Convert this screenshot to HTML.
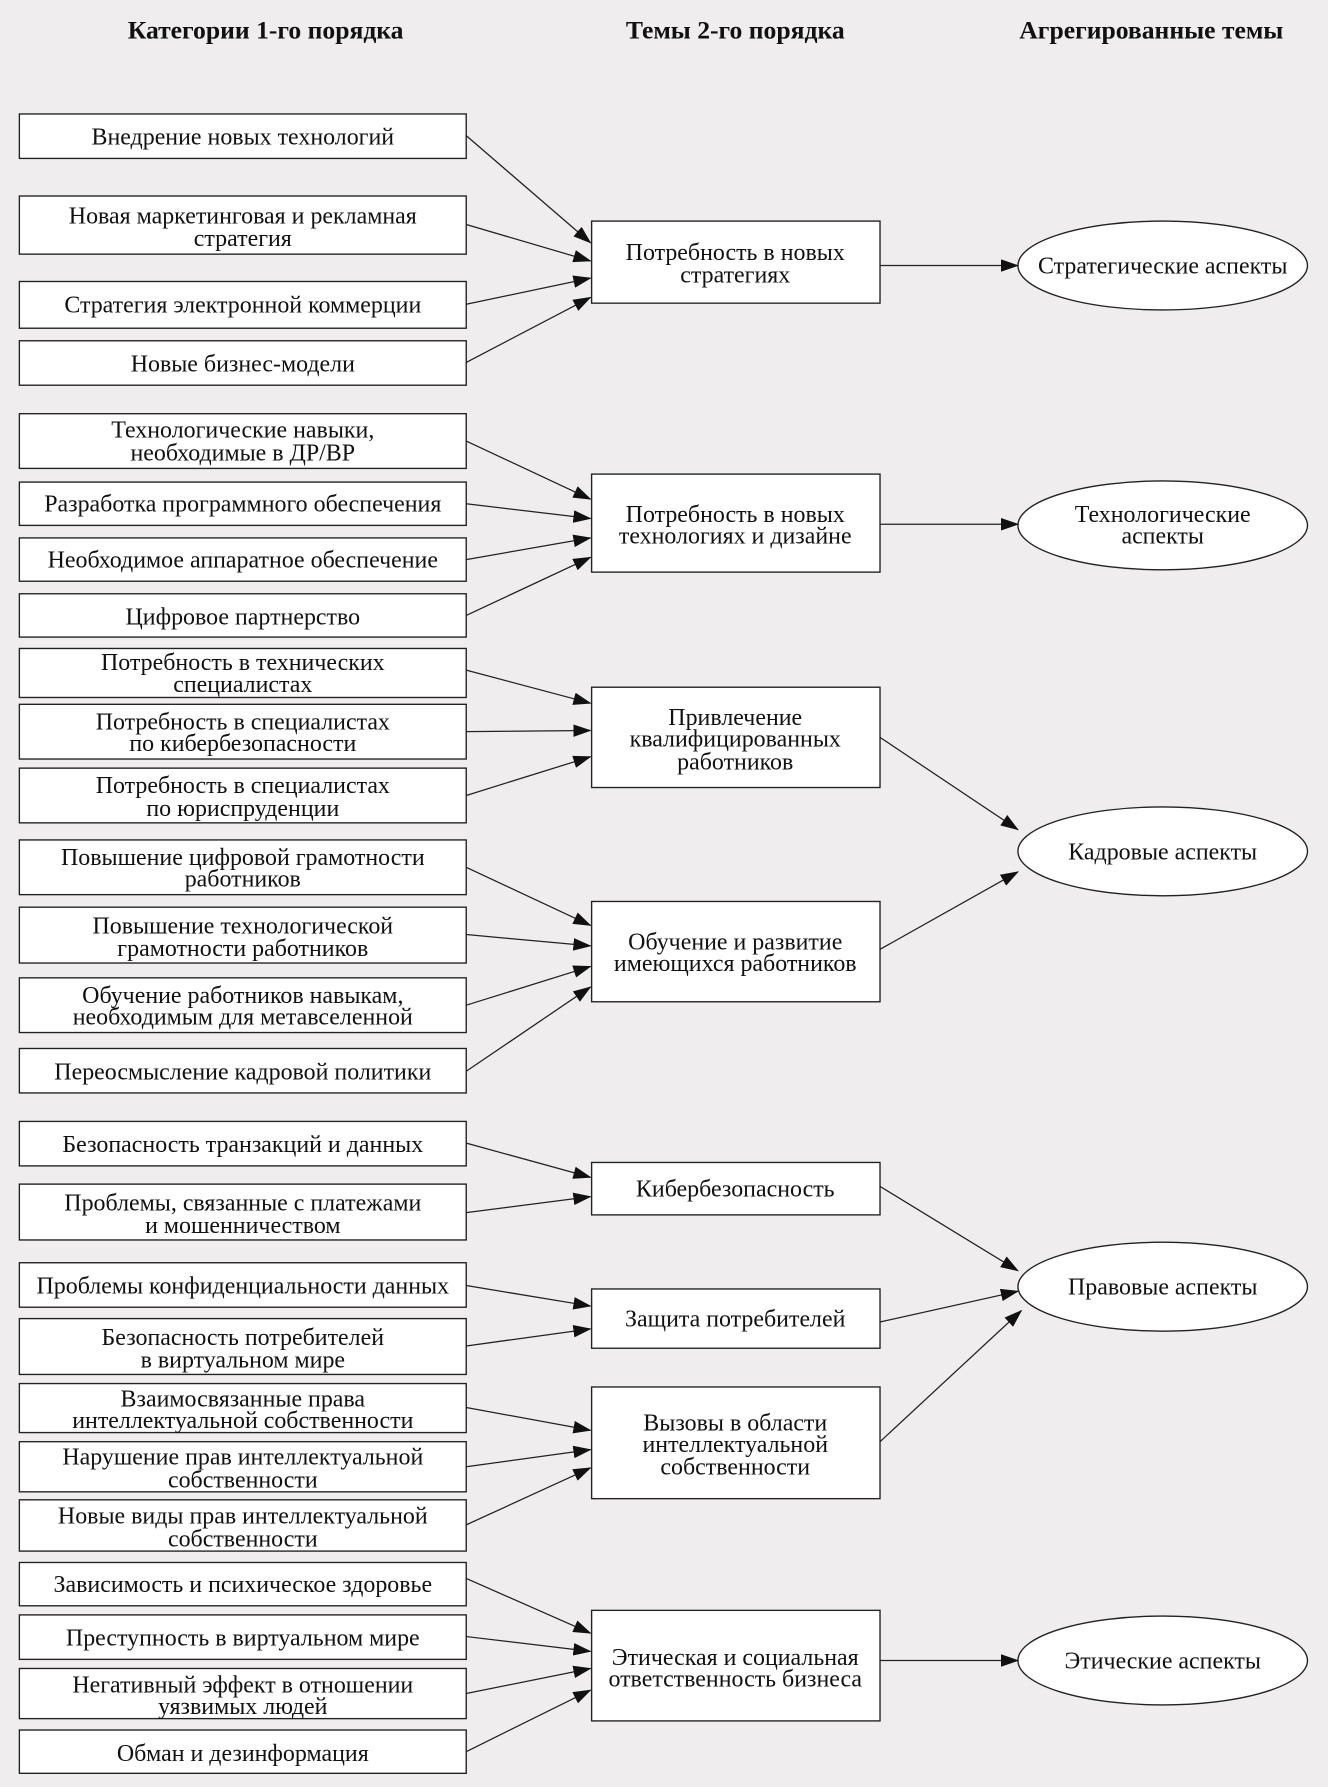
<!DOCTYPE html>
<html><head><meta charset="utf-8"><style>
html,body{margin:0;padding:0;background:#efedee;}
svg{display:block}
text{font-family:"Liberation Serif",serif;font-size:21px;fill:#111;text-anchor:middle}
.h{font-weight:bold;font-size:22.5px}
rect,ellipse{fill:#fff;stroke:#222;stroke-width:1.2}
line{stroke:#222;stroke-width:1.1;marker-end:url(#a)}
</style></head><body>
<svg width="1328" height="1787" viewBox="0 0 1165 1568" preserveAspectRatio="none" xmlns="http://www.w3.org/2000/svg">
<defs><marker id="a" markerWidth="16" markerHeight="11" refX="15" refY="5.5" orient="auto" markerUnits="userSpaceOnUse"><path d="M0,0 L16,5.5 L0,11 z" fill="#111"/></marker></defs>
<rect x="0" y="0" width="1165" height="1568" style="fill:#efedee;stroke:none"/>
<text class="h" x="233" y="34">Категории 1-го порядка</text>
<text class="h" x="645" y="34">Темы 2-го порядка</text>
<text class="h" x="1010" y="34">Агрегированные темы</text>

<g>
<rect x="17" y="100" width="392" height="39"/><text x="213" y="127">Внедрение новых технологий</text>
<rect x="17" y="172" width="392" height="51"/><text x="213" y="196">Новая маркетинговая и рекламная</text><text x="213" y="216">стратегия</text>
<rect x="17" y="247" width="392" height="41"/><text x="213" y="274">Стратегия электронной коммерции</text>
<rect x="17" y="299" width="392" height="39"/><text x="213" y="326">Новые бизнес-модели</text>

<rect x="17" y="363" width="392" height="48"/><text x="213" y="384">Технологические навыки,</text><text x="213" y="404">необходимые в ДР/ВР</text>
<rect x="17" y="423" width="392" height="38"/><text x="213" y="449">Разработка программного обеспечения</text>
<rect x="17" y="472" width="392" height="38"/><text x="213" y="498">Необходимое аппаратное обеспечение</text>
<rect x="17" y="521" width="392" height="38"/><text x="213" y="548">Цифровое партнерство</text>

<rect x="17" y="569" width="392" height="43"/><text x="213" y="588">Потребность в технических</text><text x="213" y="607">специалистах</text>
<rect x="17" y="618" width="392" height="48"/><text x="213" y="640">Потребность в специалистах</text><text x="213" y="659">по кибербезопасности</text>
<rect x="17" y="674" width="392" height="48"/><text x="213" y="696">Потребность в специалистах</text><text x="213" y="716">по юриспруденции</text>

<rect x="17" y="737" width="392" height="48"/><text x="213" y="759">Повышение цифровой грамотности</text><text x="213" y="778">работников</text>
<rect x="17" y="796" width="392" height="49"/><text x="213" y="819">Повышение технологической</text><text x="213" y="839">грамотности работников</text>
<rect x="17" y="858" width="392" height="48"/><text x="213" y="880">Обучение работников навыкам,</text><text x="213" y="899">необходимым для метавселенной</text>
<rect x="17" y="920" width="392" height="39"/><text x="213" y="947">Переосмысление кадровой политики</text>

<rect x="17" y="984" width="392" height="39"/><text x="213" y="1011">Безопасность транзакций и данных</text>
<rect x="17" y="1039" width="392" height="49"/><text x="213" y="1062">Проблемы, связанные с платежами</text><text x="213" y="1082">и мошенничеством</text>

<rect x="17" y="1108" width="392" height="39"/><text x="213" y="1135">Проблемы конфиденциальности данных</text>
<rect x="17" y="1157" width="392" height="49"/><text x="213" y="1180">Безопасность потребителей</text><text x="213" y="1200">в виртуальном мире</text>
<rect x="17" y="1214" width="392" height="43"/><text x="213" y="1234">Взаимосвязанные права</text><text x="213" y="1253">интеллектуальной собственности</text>
<rect x="17" y="1265" width="392" height="44"/><text x="213" y="1285">Нарушение прав интеллектуальной</text><text x="213" y="1305">собственности</text>
<rect x="17" y="1316" width="392" height="45"/><text x="213" y="1337">Новые виды прав интеллектуальной</text><text x="213" y="1357">собственности</text>

<rect x="17" y="1371" width="392" height="38"/><text x="213" y="1397">Зависимость и психическое здоровье</text>
<rect x="17" y="1417" width="392" height="39"/><text x="213" y="1444">Преступность в виртуальном мире</text>
<rect x="17" y="1464" width="392" height="44"/><text x="213" y="1485">Негативный эффект в отношении</text><text x="213" y="1504">уязвимых людей</text>
<rect x="17" y="1518" width="392" height="38"/><text x="213" y="1545">Обман и дезинформация</text>
</g>

<rect x="519" y="194" width="253" height="72"/><text x="645" y="228">Потребность в новых</text><text x="645" y="248">стратегиях</text>
<rect x="519" y="416" width="253" height="86"/><text x="645" y="458">Потребность в новых</text><text x="645" y="477">технологиях и дизайне</text>
<rect x="519" y="603" width="253" height="88"/><text x="645" y="636">Привлечение</text><text x="645" y="655">квалифицированных</text><text x="645" y="675">работников</text>
<rect x="519" y="791" width="253" height="88"/><text x="645" y="833">Обучение и развитие</text><text x="645" y="852">имеющихся работников</text>
<rect x="519" y="1020" width="253" height="46"/><text x="645" y="1050">Кибербезопасность</text>
<rect x="519" y="1131" width="253" height="52"/><text x="645" y="1164">Защита потребителей</text>
<rect x="519" y="1217" width="253" height="98"/><text x="645" y="1255">Вызовы в области</text><text x="645" y="1274">интеллектуальной</text><text x="645" y="1294">собственности</text>
<rect x="519" y="1413" width="253" height="97"/><text x="645" y="1461">Этическая и социальная</text><text x="645" y="1480">ответственность бизнеса</text>

<ellipse cx="1020" cy="233" rx="127" ry="39"/><text x="1020" y="240">Стратегические аспекты</text>
<ellipse cx="1020" cy="461" rx="127" ry="39"/><text x="1020" y="458">Технологические</text><text x="1020" y="477">аспекты</text>
<ellipse cx="1020" cy="747" rx="127" ry="39"/><text x="1020" y="754">Кадровые аспекты</text>
<ellipse cx="1020" cy="1129" rx="127" ry="39"/><text x="1020" y="1136">Правовые аспекты</text>
<ellipse cx="1020" cy="1457" rx="127" ry="39"/><text x="1020" y="1464">Этические аспекты</text>

<line x1="409" y1="119" x2="518" y2="213"/>
<line x1="409" y1="197" x2="518" y2="229"/>
<line x1="409" y1="267" x2="518" y2="244"/>
<line x1="409" y1="318" x2="518" y2="261"/>

<line x1="409" y1="387" x2="518" y2="438"/>
<line x1="409" y1="442" x2="518" y2="455"/>
<line x1="409" y1="491" x2="518" y2="472"/>
<line x1="409" y1="540" x2="518" y2="489"/>

<line x1="409" y1="588" x2="518" y2="617"/>
<line x1="409" y1="642" x2="518" y2="641"/>
<line x1="409" y1="698" x2="518" y2="664"/>

<line x1="409" y1="761" x2="518" y2="812"/>
<line x1="409" y1="820" x2="518" y2="830"/>
<line x1="409" y1="882" x2="518" y2="848"/>
<line x1="409" y1="940" x2="518" y2="866"/>

<line x1="409" y1="1003" x2="518" y2="1033"/>
<line x1="409" y1="1064" x2="518" y2="1050"/>

<line x1="409" y1="1128" x2="518" y2="1146"/>
<line x1="409" y1="1181" x2="518" y2="1166"/>

<line x1="409" y1="1235" x2="518" y2="1255"/>
<line x1="409" y1="1287" x2="518" y2="1272"/>
<line x1="409" y1="1338" x2="518" y2="1288"/>

<line x1="409" y1="1385" x2="518" y2="1433"/>
<line x1="409" y1="1436" x2="518" y2="1449"/>
<line x1="409" y1="1486" x2="518" y2="1464"/>
<line x1="409" y1="1537" x2="518" y2="1483"/>

<line x1="772" y1="233" x2="893" y2="233"/>
<line x1="772" y1="460" x2="893" y2="460"/>
<line x1="772" y1="647" x2="893" y2="728"/>
<line x1="772" y1="833" x2="893" y2="765"/>
<line x1="772" y1="1041" x2="893" y2="1115"/>
<line x1="772" y1="1160" x2="893" y2="1133"/>
<line x1="772" y1="1265" x2="896" y2="1150"/>
<line x1="772" y1="1457" x2="893" y2="1457"/>
</svg>
</body></html>
